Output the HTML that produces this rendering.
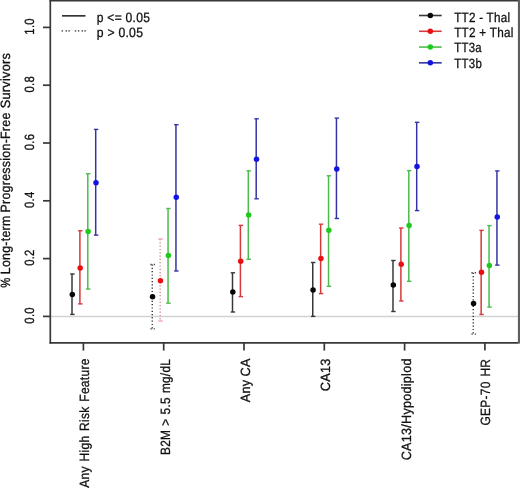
<!DOCTYPE html>
<html><head><meta charset="utf-8"><style>
html,body{margin:0;padding:0;background:#fff;}
body{width:520px;height:489px;overflow:hidden;}
svg{display:block;font-family:"Liberation Sans",sans-serif;filter:blur(0.35px);}
text{letter-spacing:0.3px;word-spacing:1.2px;text-rendering:geometricPrecision;stroke:#111;stroke-width:0.3px;}
</style></head><body>
<svg width="520" height="489" viewBox="0 0 520 489">
<rect width="520" height="489" fill="#fff"/>
<line x1="51" y1="316.5" x2="518" y2="316.5" stroke="#d2d2d2" stroke-width="1.3"/>
<line x1="50.3" y1="0" x2="50.3" y2="343.6" stroke="#383838" stroke-width="1.7"/>
<line x1="49.5" y1="342.8" x2="518" y2="342.8" stroke="#383838" stroke-width="1.7"/>
<line x1="49.5" y1="0.7" x2="518" y2="0.7" stroke="#383838" stroke-width="1.7"/>
<rect x="517.9" y="0" width="2.1" height="343.6" fill="#5e5e5e"/>
<line x1="43" y1="316.4" x2="50" y2="316.4" stroke="#383838" stroke-width="1.7"/>
<line x1="43" y1="258.6" x2="50" y2="258.6" stroke="#383838" stroke-width="1.7"/>
<line x1="43" y1="200.8" x2="50" y2="200.8" stroke="#383838" stroke-width="1.7"/>
<line x1="43" y1="143.0" x2="50" y2="143.0" stroke="#383838" stroke-width="1.7"/>
<line x1="43" y1="85.2" x2="50" y2="85.2" stroke="#383838" stroke-width="1.7"/>
<line x1="43" y1="27.4" x2="50" y2="27.4" stroke="#383838" stroke-width="1.7"/>
<line x1="83.4" y1="343" x2="83.4" y2="350.6" stroke="#383838" stroke-width="1.7"/>
<line x1="163.7" y1="343" x2="163.7" y2="350.6" stroke="#383838" stroke-width="1.7"/>
<line x1="244.0" y1="343" x2="244.0" y2="350.6" stroke="#383838" stroke-width="1.7"/>
<line x1="324.3" y1="343" x2="324.3" y2="350.6" stroke="#383838" stroke-width="1.7"/>
<line x1="404.6" y1="343" x2="404.6" y2="350.6" stroke="#383838" stroke-width="1.7"/>
<line x1="484.9" y1="343" x2="484.9" y2="350.6" stroke="#383838" stroke-width="1.7"/>
<line x1="72.00" y1="274" x2="72.00" y2="314.4" stroke="#383838" stroke-width="1.5"/>
<line x1="70.20" y1="274" x2="74.60" y2="274" stroke="#383838" stroke-width="1.4"/>
<line x1="70.20" y1="314.4" x2="74.60" y2="314.4" stroke="#383838" stroke-width="1.4"/>
<circle cx="72.30" cy="294.5" r="2.75" fill="#080808"/>
<line x1="79.90" y1="230.8" x2="79.90" y2="303.9" stroke="#d83838" stroke-width="1.5"/>
<line x1="78.10" y1="230.8" x2="82.50" y2="230.8" stroke="#d83838" stroke-width="1.4"/>
<line x1="78.10" y1="303.9" x2="82.50" y2="303.9" stroke="#d83838" stroke-width="1.4"/>
<circle cx="80.20" cy="268" r="2.75" fill="#e81010"/>
<line x1="87.80" y1="173.8" x2="87.80" y2="289" stroke="#4cbb4c" stroke-width="1.5"/>
<line x1="86.00" y1="173.8" x2="90.40" y2="173.8" stroke="#4cbb4c" stroke-width="1.4"/>
<line x1="86.00" y1="289" x2="90.40" y2="289" stroke="#4cbb4c" stroke-width="1.4"/>
<circle cx="88.10" cy="231.4" r="2.75" fill="#20c820"/>
<line x1="95.70" y1="129.4" x2="95.70" y2="235.1" stroke="#3434a4" stroke-width="1.5"/>
<line x1="93.90" y1="129.4" x2="98.30" y2="129.4" stroke="#3434a4" stroke-width="1.4"/>
<line x1="93.90" y1="235.1" x2="98.30" y2="235.1" stroke="#3434a4" stroke-width="1.4"/>
<circle cx="96.00" cy="182.8" r="2.75" fill="#1414e0"/>
<line x1="152.25" y1="264.5" x2="152.25" y2="328.9" stroke="#333333" stroke-width="1.4" stroke-dasharray="1.2 2.1"/>
<line x1="150.45" y1="264.5" x2="154.85" y2="264.5" stroke="#333333" stroke-width="1.4" stroke-dasharray="1.2 2.1"/>
<line x1="150.45" y1="328.9" x2="154.85" y2="328.9" stroke="#333333" stroke-width="1.4" stroke-dasharray="1.2 2.1"/>
<circle cx="152.55" cy="296.7" r="2.75" fill="#080808"/>
<line x1="160.15" y1="239" x2="160.15" y2="321" stroke="#d88890" stroke-width="1.4" stroke-dasharray="1.2 2.1"/>
<line x1="158.35" y1="239" x2="162.75" y2="239" stroke="#f2a6b4" stroke-width="1.4"/>
<line x1="158.35" y1="321" x2="162.75" y2="321" stroke="#f2a6b4" stroke-width="1.4"/>
<circle cx="160.45" cy="280.7" r="2.75" fill="#e81010"/>
<line x1="168.05" y1="208.5" x2="168.05" y2="303.2" stroke="#4cbb4c" stroke-width="1.5"/>
<line x1="166.25" y1="208.5" x2="170.65" y2="208.5" stroke="#4cbb4c" stroke-width="1.4"/>
<line x1="166.25" y1="303.2" x2="170.65" y2="303.2" stroke="#4cbb4c" stroke-width="1.4"/>
<circle cx="168.35" cy="255.6" r="2.75" fill="#20c820"/>
<line x1="175.95" y1="124.7" x2="175.95" y2="271" stroke="#3434a4" stroke-width="1.5"/>
<line x1="174.15" y1="124.7" x2="178.55" y2="124.7" stroke="#3434a4" stroke-width="1.4"/>
<line x1="174.15" y1="271" x2="178.55" y2="271" stroke="#3434a4" stroke-width="1.4"/>
<circle cx="176.25" cy="197.2" r="2.75" fill="#1414e0"/>
<line x1="232.50" y1="272.8" x2="232.50" y2="312" stroke="#383838" stroke-width="1.5"/>
<line x1="230.70" y1="272.8" x2="235.10" y2="272.8" stroke="#383838" stroke-width="1.4"/>
<line x1="230.70" y1="312" x2="235.10" y2="312" stroke="#383838" stroke-width="1.4"/>
<circle cx="232.80" cy="291.9" r="2.75" fill="#080808"/>
<line x1="240.40" y1="225.4" x2="240.40" y2="296.6" stroke="#d83838" stroke-width="1.5"/>
<line x1="238.60" y1="225.4" x2="243.00" y2="225.4" stroke="#d83838" stroke-width="1.4"/>
<line x1="238.60" y1="296.6" x2="243.00" y2="296.6" stroke="#d83838" stroke-width="1.4"/>
<circle cx="240.70" cy="261.2" r="2.75" fill="#e81010"/>
<line x1="248.30" y1="170.8" x2="248.30" y2="259.3" stroke="#4cbb4c" stroke-width="1.5"/>
<line x1="246.50" y1="170.8" x2="250.90" y2="170.8" stroke="#4cbb4c" stroke-width="1.4"/>
<line x1="246.50" y1="259.3" x2="250.90" y2="259.3" stroke="#4cbb4c" stroke-width="1.4"/>
<circle cx="248.60" cy="215" r="2.75" fill="#20c820"/>
<line x1="256.20" y1="118.8" x2="256.20" y2="198.8" stroke="#3434a4" stroke-width="1.5"/>
<line x1="254.40" y1="118.8" x2="258.80" y2="118.8" stroke="#3434a4" stroke-width="1.4"/>
<line x1="254.40" y1="198.8" x2="258.80" y2="198.8" stroke="#3434a4" stroke-width="1.4"/>
<circle cx="256.50" cy="159.2" r="2.75" fill="#1414e0"/>
<line x1="312.75" y1="262.5" x2="312.75" y2="316.4" stroke="#383838" stroke-width="1.5"/>
<line x1="310.95" y1="262.5" x2="315.35" y2="262.5" stroke="#383838" stroke-width="1.4"/>
<line x1="310.95" y1="316.4" x2="315.35" y2="316.4" stroke="#383838" stroke-width="1.4"/>
<circle cx="313.05" cy="290" r="2.75" fill="#080808"/>
<line x1="320.65" y1="224.2" x2="320.65" y2="293.6" stroke="#d83838" stroke-width="1.5"/>
<line x1="318.85" y1="224.2" x2="323.25" y2="224.2" stroke="#d83838" stroke-width="1.4"/>
<line x1="318.85" y1="293.6" x2="323.25" y2="293.6" stroke="#d83838" stroke-width="1.4"/>
<circle cx="320.95" cy="258.5" r="2.75" fill="#e81010"/>
<line x1="328.55" y1="175.8" x2="328.55" y2="286.3" stroke="#4cbb4c" stroke-width="1.5"/>
<line x1="326.75" y1="175.8" x2="331.15" y2="175.8" stroke="#4cbb4c" stroke-width="1.4"/>
<line x1="326.75" y1="286.3" x2="331.15" y2="286.3" stroke="#4cbb4c" stroke-width="1.4"/>
<circle cx="328.85" cy="230.3" r="2.75" fill="#20c820"/>
<line x1="336.45" y1="118.1" x2="336.45" y2="218.5" stroke="#3434a4" stroke-width="1.5"/>
<line x1="334.65" y1="118.1" x2="339.05" y2="118.1" stroke="#3434a4" stroke-width="1.4"/>
<line x1="334.65" y1="218.5" x2="339.05" y2="218.5" stroke="#3434a4" stroke-width="1.4"/>
<circle cx="336.75" cy="168.9" r="2.75" fill="#1414e0"/>
<line x1="393.00" y1="260.5" x2="393.00" y2="311.5" stroke="#383838" stroke-width="1.5"/>
<line x1="391.20" y1="260.5" x2="395.60" y2="260.5" stroke="#383838" stroke-width="1.4"/>
<line x1="391.20" y1="311.5" x2="395.60" y2="311.5" stroke="#383838" stroke-width="1.4"/>
<circle cx="393.30" cy="285" r="2.75" fill="#080808"/>
<line x1="400.90" y1="228" x2="400.90" y2="301" stroke="#d83838" stroke-width="1.5"/>
<line x1="399.10" y1="228" x2="403.50" y2="228" stroke="#d83838" stroke-width="1.4"/>
<line x1="399.10" y1="301" x2="403.50" y2="301" stroke="#d83838" stroke-width="1.4"/>
<circle cx="401.20" cy="264.2" r="2.75" fill="#e81010"/>
<line x1="408.80" y1="170.6" x2="408.80" y2="281.3" stroke="#4cbb4c" stroke-width="1.5"/>
<line x1="407.00" y1="170.6" x2="411.40" y2="170.6" stroke="#4cbb4c" stroke-width="1.4"/>
<line x1="407.00" y1="281.3" x2="411.40" y2="281.3" stroke="#4cbb4c" stroke-width="1.4"/>
<circle cx="409.10" cy="225.4" r="2.75" fill="#20c820"/>
<line x1="416.70" y1="122.3" x2="416.70" y2="210.6" stroke="#3434a4" stroke-width="1.5"/>
<line x1="414.90" y1="122.3" x2="419.30" y2="122.3" stroke="#3434a4" stroke-width="1.4"/>
<line x1="414.90" y1="210.6" x2="419.30" y2="210.6" stroke="#3434a4" stroke-width="1.4"/>
<circle cx="417.00" cy="166.4" r="2.75" fill="#1414e0"/>
<line x1="473.25" y1="272.8" x2="473.25" y2="334.1" stroke="#333333" stroke-width="1.4" stroke-dasharray="1.2 2.1"/>
<line x1="471.45" y1="272.8" x2="475.85" y2="272.8" stroke="#333333" stroke-width="1.4" stroke-dasharray="1.2 2.1"/>
<line x1="471.45" y1="334.1" x2="475.85" y2="334.1" stroke="#333333" stroke-width="1.4" stroke-dasharray="1.2 2.1"/>
<circle cx="473.55" cy="303.4" r="2.75" fill="#080808"/>
<line x1="481.15" y1="230.4" x2="481.15" y2="314.5" stroke="#d83838" stroke-width="1.5"/>
<line x1="479.35" y1="230.4" x2="483.75" y2="230.4" stroke="#d83838" stroke-width="1.4"/>
<line x1="479.35" y1="314.5" x2="483.75" y2="314.5" stroke="#d83838" stroke-width="1.4"/>
<circle cx="481.45" cy="272.3" r="2.75" fill="#e81010"/>
<line x1="489.05" y1="225.6" x2="489.05" y2="307.1" stroke="#4cbb4c" stroke-width="1.5"/>
<line x1="487.25" y1="225.6" x2="491.65" y2="225.6" stroke="#4cbb4c" stroke-width="1.4"/>
<line x1="487.25" y1="307.1" x2="491.65" y2="307.1" stroke="#4cbb4c" stroke-width="1.4"/>
<circle cx="489.35" cy="265.6" r="2.75" fill="#20c820"/>
<line x1="496.95" y1="170.9" x2="496.95" y2="265.1" stroke="#3434a4" stroke-width="1.5"/>
<line x1="495.15" y1="170.9" x2="499.55" y2="170.9" stroke="#3434a4" stroke-width="1.4"/>
<line x1="495.15" y1="265.1" x2="499.55" y2="265.1" stroke="#3434a4" stroke-width="1.4"/>
<circle cx="497.25" cy="217" r="2.75" fill="#1414e0"/>
<line x1="62" y1="15.85" x2="85.5" y2="15.85" stroke="#2a2a2a" stroke-width="1.6"/>
<rect x="61.6" y="30.2" width="1.4" height="1.4" fill="#444"/>
<rect x="65.6" y="30.2" width="1.4" height="1.4" fill="#444"/>
<rect x="68.4" y="30.2" width="1.4" height="1.4" fill="#444"/>
<rect x="74.8" y="30.2" width="1.4" height="1.4" fill="#444"/>
<rect x="77.9" y="30.2" width="1.4" height="1.4" fill="#444"/>
<rect x="81.6" y="30.2" width="1.4" height="1.4" fill="#444"/>
<rect x="84.4" y="30.2" width="1.4" height="1.4" fill="#444"/>
<line x1="419" y1="15.50" x2="441.7" y2="15.50" stroke="#383838" stroke-width="1.6"/>
<circle cx="430.3" cy="15.50" r="2.75" fill="#080808"/>
<line x1="419" y1="31.28" x2="441.7" y2="31.28" stroke="#d83838" stroke-width="1.6"/>
<circle cx="430.3" cy="31.28" r="2.75" fill="#e81010"/>
<line x1="419" y1="47.06" x2="441.7" y2="47.06" stroke="#4cbb4c" stroke-width="1.6"/>
<circle cx="430.3" cy="47.06" r="2.75" fill="#20c820"/>
<line x1="419" y1="62.84" x2="441.7" y2="62.84" stroke="#3434a4" stroke-width="1.6"/>
<circle cx="430.3" cy="62.84" r="2.75" fill="#1414e0"/>
<text x="96.72" y="22" font-size="13.4" fill="#111" textLength="53.4" lengthAdjust="spacingAndGlyphs" style="word-spacing:0px">p &lt;= 0.05</text>
<text x="96.7" y="37" font-size="13.4" fill="#111" textLength="46.5" lengthAdjust="spacingAndGlyphs" style="word-spacing:0px">p &gt; 0.05</text>
<text x="454.13" y="21.8" font-size="13.4" fill="#111" textLength="56.2" lengthAdjust="spacingAndGlyphs" style="word-spacing:0px">TT2 - Thal</text>
<text x="454.13" y="37.2" font-size="13.4" fill="#111" textLength="59.5" lengthAdjust="spacingAndGlyphs" style="word-spacing:0px">TT2 + Thal</text>
<text x="454.33" y="51.7" font-size="13.4" fill="#111" textLength="27.5" lengthAdjust="spacingAndGlyphs" style="word-spacing:0px">TT3a</text>
<text x="454.33" y="68.3" font-size="13.4" fill="#111" textLength="27.7" lengthAdjust="spacingAndGlyphs" style="word-spacing:0px">TT3b</text>
<text transform="translate(89.45,358.3) rotate(-90)" text-anchor="end" font-size="13.4" fill="#111" textLength="129.5" lengthAdjust="spacingAndGlyphs">Any High Risk Feature</text>
<text transform="translate(170.15,358.9) rotate(-90)" text-anchor="end" font-size="13.4" fill="#111" textLength="96.0" lengthAdjust="spacingAndGlyphs" style="word-spacing:0.6px">B2M &gt; 5.5 mg/dL</text>
<text transform="translate(250.05,358.3) rotate(-90)" text-anchor="end" font-size="13.4" fill="#111" textLength="44.0" lengthAdjust="spacingAndGlyphs" style="word-spacing:-0.6px">Any CA</text>
<text transform="translate(330.35,358.3) rotate(-90)" text-anchor="end" font-size="13.4" fill="#111" textLength="33" lengthAdjust="spacingAndGlyphs">CA13</text>
<text transform="translate(411.0,358.3) rotate(-90)" text-anchor="end" font-size="13.4" fill="#111" textLength="102" lengthAdjust="spacingAndGlyphs">CA13/Hypodiplod</text>
<text transform="translate(490.1,358.8) rotate(-90)" text-anchor="end" font-size="13.4" fill="#111" textLength="66.7" lengthAdjust="spacingAndGlyphs">GEP-70 HR</text>
<text transform="translate(10,282.6) rotate(-90)" text-anchor="middle" font-size="13.4" fill="#111" textLength="10.25" lengthAdjust="spacingAndGlyphs">%</text>
<text transform="translate(10,244.83) rotate(-90)" text-anchor="middle" font-size="13.4" fill="#111" textLength="58.7" lengthAdjust="spacingAndGlyphs">Long-term</text>
<text transform="translate(10,162.45) rotate(-90)" text-anchor="middle" font-size="13.4" fill="#111" textLength="100.1" lengthAdjust="spacingAndGlyphs">Progression-Free</text>
<text transform="translate(10,80.55) rotate(-90)" text-anchor="middle" font-size="13.4" fill="#111" textLength="55.5" lengthAdjust="spacingAndGlyphs">Survivors</text>
<text transform="translate(33.5,315.40) rotate(-90)" text-anchor="middle" font-size="13.4" fill="#111" textLength="16.5" lengthAdjust="spacingAndGlyphs">0.0</text>
<text transform="translate(33.5,257.60) rotate(-90)" text-anchor="middle" font-size="13.4" fill="#111" textLength="16.5" lengthAdjust="spacingAndGlyphs">0.2</text>
<text transform="translate(33.5,199.80) rotate(-90)" text-anchor="middle" font-size="13.4" fill="#111" textLength="16.5" lengthAdjust="spacingAndGlyphs">0.4</text>
<text transform="translate(33.5,142.00) rotate(-90)" text-anchor="middle" font-size="13.4" fill="#111" textLength="16.5" lengthAdjust="spacingAndGlyphs">0.6</text>
<text transform="translate(33.5,84.20) rotate(-90)" text-anchor="middle" font-size="13.4" fill="#111" textLength="16.5" lengthAdjust="spacingAndGlyphs">0.8</text>
<text transform="translate(33.5,26.40) rotate(-90)" text-anchor="middle" font-size="13.4" fill="#111" textLength="16.5" lengthAdjust="spacingAndGlyphs">1.0</text>
</svg></body></html>
